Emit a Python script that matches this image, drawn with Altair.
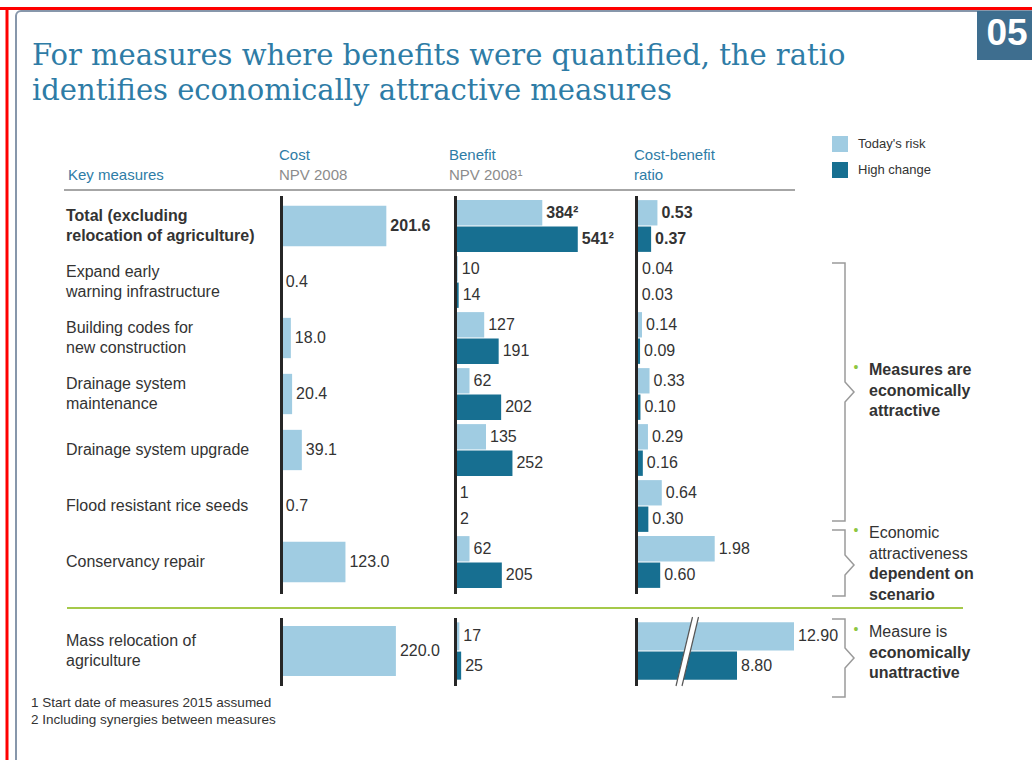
import altair as alt
import pandas as pd

# ------------------------------------------------------------------ data
measures = [
    "Total (excluding\nrelocation of agriculture)",
    "Expand early\nwarning infrastructure",
    "Building codes for\nnew construction",
    "Drainage system\nmaintenance",
    "Drainage system upgrade",
    "Flood resistant rice seeds",
    "Conservancy repair",
]
bold_row = [True, False, False, False, False, False, False]
cost_npv = [201.6, 0.4, 18.0, 20.4, 39.1, 0.7, 123.0]
benefit_today = [384, 10, 127, 62, 135, 1, 62]
benefit_high = [541, 14, 191, 202, 252, 2, 205]
benefit_note = ["\u00b2", "", "", "", "", "", ""]
ratio_today = [0.53, 0.04, 0.14, 0.33, 0.29, 0.64, 1.98]
ratio_high = [0.37, 0.03, 0.09, 0.10, 0.16, 0.30, 0.60]

reloc_measure = ["Mass relocation of\nagriculture"]
reloc_cost = [220.0]
reloc_benefit_today = [17]
reloc_benefit_high = [25]
reloc_ratio_today = [12.90]
reloc_ratio_high = [8.80]

scenarios = ["Today's risk", "High change"]

title_lines = ["For measures where benefits were quantified, the ratio",
               "identifies economically attractive measures"]
footnotes = ["1 Start date of measures 2015 assumed",
             "2 Including synergies between measures"]
notes_groups = [
    [("Measures are", True), ("economically", True), ("attractive", True)],
    [("Economic", False), ("attractiveness", False), ("dependent on", True), ("scenario", True)],
    [("Measure is", False), ("economically", True), ("unattractive", True)],
]

# ------------------------------------------------------------------ styles
LIGHT = "#a0cce2"
DARK = "#176f91"
TEAL = "#2e7ca6"
TXT = "#333333"
GREY = "#8c8c8c"
FONT = "Liberation Sans, Arial, sans-serif"
FS = 16
LH = 20.5

one = alt.Data(values=[{}])


def deco(mark, **kw):
    return getattr(alt.Chart(one), mark)(**kw)


def txt(s, x, y, size=FS, color=TXT, weight="normal", font=FONT, align="left",
        baseline="middle", **kw):
    return deco("mark_text", text=s, font=font, fontSize=size, color=color,
                fontWeight=weight, align=align, baseline=baseline, **kw).encode(
        x=alt.value(x), y=alt.value(y))


def rule(x, y, x2=None, y2=None, color="#222", width=1.0):
    enc = dict(x=alt.value(x), y=alt.value(y))
    if x2 is not None:
        enc["x2"] = alt.value(x2)
    if y2 is not None:
        enc["y2"] = alt.value(y2)
    return deco("mark_rule", color=color, strokeWidth=width).encode(**enc)


def polyline(pts, color, width):
    df = pd.DataFrame({"px": [p[0] for p in pts], "py": [p[1] for p in pts],
                       "i": list(range(len(pts)))})
    return alt.Chart(df).mark_line(color=color, strokeWidth=width,
                                   strokeJoin="miter").encode(
        x=alt.X("px:Q", scale=None), y=alt.Y("py:Q", scale=None),
        order=alt.Order("i:Q"))


# ------------------------------------------------------------------ frames
top = pd.DataFrame({"measure": measures, "cost": cost_npv, "bold": bold_row})
top["label"] = top["cost"].map(lambda v: f"{v:.1f}")
bot = pd.DataFrame({"measure": reloc_measure, "cost": reloc_cost, "bold": [False]})
bot["label"] = bot["cost"].map(lambda v: f"{v:.1f}")


def pairs(ms, today, high, fmt, notes=None, bold=None):
    rows = []
    for i, m in enumerate(ms):
        for s, vals in zip(scenarios, [today, high]):
            v = vals[i]
            rows.append({"measure": m, "scenario": s, "value": v,
                         "label": fmt(v) + (notes[i] if notes else ""),
                         "bold": bold[i] if bold else False})
    return pd.DataFrame(rows)


ben_top = pairs(measures, benefit_today, benefit_high, lambda v: f"{v:d}",
                benefit_note, bold_row)
rat_top = pairs(measures, ratio_today, ratio_high, lambda v: f"{v:.2f}",
                None, bold_row)
ben_bot = pairs(reloc_measure, reloc_benefit_today, reloc_benefit_high,
                lambda v: f"{v:d}")
rat_bot = pairs(reloc_measure, reloc_ratio_today, reloc_ratio_high,
                lambda v: f"{v:.2f}")

# ------------------------------------------------------------------ scales
X_COST = alt.Scale(domain=[0, 220], range=[281.5, 281.5 + 0.52 * 220], nice=False)
X_BEN = alt.Scale(domain=[0, 600], range=[455.5, 455.5 + 0.226 * 600], nice=False)
X_RAT = alt.Scale(domain=[0, 4], range=[636.5, 636.5 + 39.5 * 4], nice=False)
X_RAT_BROKEN = alt.Scale(domain=[1.57, 12.9], range=[636.5, 794], nice=False,
                         zero=False, clamp=True)

Y_TOP_COST = alt.Scale(type="band", domain=measures, range=[198, 590],
                       paddingInner=0.28, paddingOuter=0.14)
Y_TOP = alt.Scale(type="band", domain=measures, range=[198, 590],
                  paddingInner=0, paddingOuter=0)
Y_BOT_COST = alt.Scale(type="band", domain=reloc_measure, range=[620, 682],
                       paddingInner=0, paddingOuter=0.12)
Y_BOT = alt.Scale(type="band", domain=reloc_measure, range=[620, 682],
                  paddingInner=0, paddingOuter=0)
Y_OFF = alt.Scale(type="band", domain=scenarios, paddingInner=0.04, paddingOuter=0.08)
COLOR = alt.Scale(domain=scenarios, range=[LIGHT, DARK])

layers = []

# background frames
layers.append(deco("mark_rect", fill="white", stroke="#8797ab", strokeWidth=2,
                   cornerRadius=5).encode(x=alt.value(16), x2=alt.value(1060),
                                          y=alt.value(11), y2=alt.value(800)))
layers.append(rule(0, 8.5, x2=1032, color="#ff0000", width=3))
layers.append(rule(7, 7, y2=760, color="#ff0000", width=3))
layers.append(deco("mark_rect", fill="#3e6e8f").encode(
    x=alt.value(977), x2=alt.value(1032), y=alt.value(11), y2=alt.value(60)))
layers.append(txt("05", 1007, 34, size=37, color="white", weight="bold",
                  align="center"))

# title
layers.append(deco("mark_text", text=title_lines, font="DejaVu Serif", fontSize=29,
                   color=TEAL, align="left", baseline="alphabetic",
                   lineHeight=35).encode(x=alt.value(32), y=alt.value(65)))

# headers
layers.append(txt("Key measures", 68, 175, size=15, color=TEAL))
layers.append(txt("Cost", 279, 155, size=15, color=TEAL))
layers.append(txt("NPV 2008", 279, 175, size=15, color=GREY))
layers.append(txt("Benefit", 449, 155, size=15, color=TEAL))
layers.append(txt("NPV 2008\u00b9", 449, 175, size=15, color=GREY))
layers.append(txt("Cost-benefit", 634, 155, size=15, color=TEAL))
layers.append(txt("ratio", 634, 175, size=15, color=TEAL))
layers.append(rule(64, 190, x2=795, color="#a6a6a6", width=2))

# separator
layers.append(rule(67, 608, x2=963, color="#a5c94a", width=2))


def label_layers(df, ys):
    out = []
    df = df.assign(nlines=df["measure"].str.count("\n") + 1)
    for b in (True, False):
        for n in (1, 2):
            sub = df[(df["bold"] == b) & (df["nlines"] == n)]
            if len(sub) == 0:
                continue
            out.append(alt.Chart(sub).mark_text(
                font=FONT, fontSize=FS, color=TXT,
                fontWeight="bold" if b else "normal",
                align="left", baseline="middle", lineBreak="\n", lineHeight=LH,
                dy=-(n - 1) * LH / 2).encode(
                x=alt.value(66), y=alt.Y("measure:N", scale=ys, axis=None),
                text="measure:N"))
    return out


def cost_layers(df, xs, ys):
    out = [alt.Chart(df).mark_bar(color=LIGHT).encode(
        x=alt.X("cost:Q", scale=xs, axis=None),
        y=alt.Y("measure:N", scale=ys, axis=None))]
    for b in (True, False):
        sub = df[df["bold"] == b]
        if len(sub) == 0:
            continue
        out.append(alt.Chart(sub).mark_text(
            font=FONT, fontSize=FS, color=TXT, fontWeight="bold" if b else "normal",
            align="left", baseline="middle", dx=4).encode(
            x=alt.X("cost:Q", scale=xs, axis=None),
            y=alt.Y("measure:N", scale=ys, axis=None), text="label:N"))
    return out


def pair_layers(df, xs, ys, legend=False):
    lg = alt.Legend(title=None, orient="none", legendX=832, legendY=136,
                    symbolType="square", symbolSize=256, symbolStrokeWidth=0,
                    labelFont=FONT, labelFontSize=13, labelColor=TXT,
                    rowPadding=10, labelOffset=10, padding=0) if legend else None
    out = [alt.Chart(df).mark_bar().encode(
        x=alt.X("value:Q", scale=xs, axis=None),
        y=alt.Y("measure:N", scale=ys, axis=None),
        yOffset=alt.YOffset("scenario:N", scale=Y_OFF, sort=scenarios),
        color=alt.Color("scenario:N", scale=COLOR, legend=lg, sort=scenarios))]
    for b in (True, False):
        sub = df[df["bold"] == b]
        if len(sub) == 0:
            continue
        out.append(alt.Chart(sub).mark_text(
            font=FONT, fontSize=FS, color=TXT, fontWeight="bold" if b else "normal",
            align="left", baseline="middle", dx=4).encode(
            x=alt.X("value:Q", scale=xs, axis=None),
            y=alt.Y("measure:N", scale=ys, axis=None),
            yOffset=alt.YOffset("scenario:N", scale=Y_OFF, sort=scenarios),
            text="label:N"))
    return out


layers += label_layers(top, Y_TOP)
layers += label_layers(bot, Y_BOT)
layers += cost_layers(top, X_COST, Y_TOP_COST)
layers += cost_layers(bot, X_COST, Y_BOT_COST)
layers += pair_layers(ben_top, X_BEN, Y_TOP, legend=True)
layers += pair_layers(ben_bot, X_BEN, Y_BOT)
layers += pair_layers(rat_top, X_RAT, Y_TOP)
layers += pair_layers(rat_bot, X_RAT_BROKEN, Y_BOT)

# axis lines for each column
for xa in (281.5, 455.5, 636.5):
    layers.append(rule(xa, 196, y2=594, color="#262626", width=3))
    layers.append(rule(xa, 618, y2=686, color="#262626", width=3))

# axis break marks on the broken ratio bar
layers.append(polyline([(679, 686), (695.5, 617)], "white", 6))
layers.append(polyline([(676, 686), (692.5, 617)], "#555555", 1.2))
layers.append(polyline([(682, 686), (698.5, 617)], "#555555", 1.2))

# brackets + notes
for (t, b, m) in [(263, 521, 392), (530, 596, 565), (619, 697, 658)]:
    layers.append(polyline([(832, t), (845, t), (845, m - 10), (854, m),
                            (845, m + 10), (845, b), (832, b)], "#9a9a9a", 1.5))

for (y0, grp) in zip([370, 533, 632], notes_groups):
    layers.append(txt("\u2022", 856, y0 - 2, size=14, color="#8dc63f",
                      align="center"))
    for k, (s, bw) in enumerate(grp):
        layers.append(txt(s, 869, y0 + k * 20.7, size=FS,
                          weight="bold" if bw else "normal"))

# footnotes
layers.append(txt(footnotes[0], 31, 703, size=13.5))
layers.append(txt(footnotes[1], 31, 720, size=13.5))

chart = alt.layer(*layers).resolve_scale(
    x="independent", y="independent", yOffset="independent"
).properties(
    width=1032, height=760, padding=0, autosize=alt.AutoSizeParams(type="none"),
    background="white"
).configure_view(stroke=None)

chart.save("out.html", embed_options={"renderer": "svg", "actions": False})
